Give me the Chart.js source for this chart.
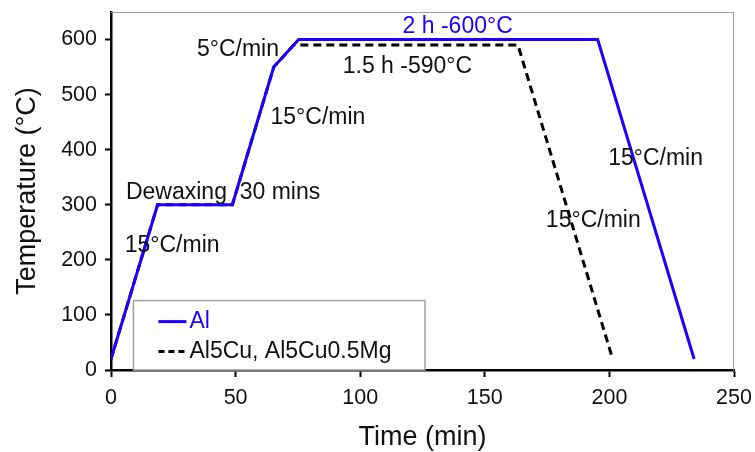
<!DOCTYPE html>
<html lang="en">
<head>
    <meta charset="UTF-8">
    <title>Temperature profile</title>
    <style>
        html, body {
            margin: 0;
            padding: 0;
            background: #fff;
        }
        #wrap {
            width: 755px;
            height: 452px;
        }
    </style>
</head>
<body>
    <div id="wrap"><canvas id="myChart" width="755" height="452"></canvas></div>
    <script src="https://cdn.jsdelivr.net/npm/chart.js"></script>
    <script>
        // Al: heating, dewaxing, 2 h hold at 600 °C, cooling
        const alTime = [0, 18.7, 48.7, 65.3, 75.3, 195.3, 234];
        const alTemp = [20, 300, 300, 550, 600, 600, 20];
        // Al5Cu / Al5Cu0.5Mg: same start, 1.5 h hold at 590 °C
        const cuTime = [0, 18.7, 48.7, 65.3, 73.3, 163.3, 201.3];
        const cuTemp = [20, 300, 300, 550, 590, 590, 20];

        const seriesNames = ['Al', 'Al5Cu, Al5Cu0.5Mg'];
        const xTicks = [0, 50, 100, 150, 200, 250];
        const yTicks = [0, 100, 200, 300, 400, 500, 600];

        // text notes placed in data coordinates
        const noteText = ['2 h -600°C', '5°C/min', '1.5 h -590°C', '15°C/min', 'Dewaxing  30 mins', '15°C/min', '15°C/min', '15°C/min'];
        const noteX = [117, 34.5, 93, 64, 6, 5.5, 199.5, 174.5];
        const noteY = [624, 582, 550, 458, 322, 226, 383, 271];
        const noteBlue = [true, false, false, false, false, false, false, false];

        const BLUE = '#1e00ff';
        const FONT = "'Liberation Sans', Arial, sans-serif";

        const toPoints = (xs, ys) => xs.map((x, i) => ({x: x, y: ys[i]}));

        const frameAndNotes = {
            id: 'frameAndNotes',
            afterDatasetsDraw(chart) {
                const ctx = chart.ctx;
                const a = chart.chartArea;
                const xs = chart.scales.x, ys = chart.scales.y;
                ctx.save();
                // thin grey frame on top and right
                ctx.strokeStyle = '#a0a0a0';
                ctx.lineWidth = 1;
                ctx.beginPath();
                ctx.moveTo(a.left, a.top + 0.5);
                ctx.lineTo(a.right - 0.5, a.top + 0.5);
                ctx.lineTo(a.right - 0.5, a.bottom);
                ctx.stroke();

                // notes
                ctx.font = '23px ' + FONT;
                ctx.textBaseline = 'middle';
                ctx.textAlign = 'left';
                noteText.forEach((t, i) => {
                    ctx.fillStyle = noteBlue[i] ? BLUE : '#111';
                    ctx.fillText(t, xs.getPixelForValue(noteX[i]), ys.getPixelForValue(noteY[i]));
                });

                // legend box
                const lx = xs.getPixelForValue(9);
                const rx = xs.getPixelForValue(126);
                const ty = ys.getPixelForValue(126);
                const by = a.bottom;
                ctx.fillStyle = '#fff';
                ctx.fillRect(lx, ty, rx - lx, by - ty);
                ctx.strokeStyle = '#a0a0a0';
                ctx.lineWidth = 1.5;
                ctx.strokeRect(lx, ty, rx - lx, by - ty);

                const rowY = [ty + 21, ty + 51];
                const styles = [[], [6, 4]];
                const colors = [BLUE, '#000'];
                seriesNames.forEach((name, i) => {
                    ctx.strokeStyle = colors[i];
                    ctx.lineWidth = 3;
                    ctx.setLineDash(styles[i]);
                    ctx.beginPath();
                    ctx.moveTo(lx + 25, rowY[i]);
                    ctx.lineTo(lx + 53, rowY[i]);
                    ctx.stroke();
                    ctx.setLineDash([]);
                    ctx.fillStyle = i === 0 ? BLUE : '#111';
                    ctx.fillText(name, lx + 56, rowY[i]);
                });
                ctx.restore();
            }
        };

        const ctx = document.getElementById('myChart').getContext('2d');
        const myChart = new Chart(ctx, {
            type: 'line',
            data: {
                datasets: [{
                    label: seriesNames[0],
                    data: toPoints(alTime, alTemp),
                    borderColor: BLUE,
                    borderWidth: 3,
                    pointRadius: 0,
                    tension: 0,
                    fill: false
                }, {
                    label: seriesNames[1],
                    data: toPoints(cuTime, cuTemp),
                    borderColor: '#000',
                    borderWidth: 3,
                    borderDash: [8, 5],
                    pointRadius: 0,
                    tension: 0,
                    fill: false
                }]
            },
            options: {
                animation: false,
                responsive: false,
                layout: {
                    padding: {top: 12, right: 21, left: 10, bottom: 0}
                },
                plugins: {
                    legend: {display: false},
                    tooltip: {enabled: false}
                },
                scales: {
                    x: {
                        type: 'linear',
                        min: 0,
                        max: 250,
                        afterBuildTicks: s => { s.ticks = xTicks.map(v => ({value: v})); },
                        afterFit: s => { s.height = 82; s.paddingLeft = 0; s.paddingRight = 0; },
                        grid: {
                            drawOnChartArea: false,
                            tickLength: 7,
                            tickWidth: 2,
                            color: '#000'
                        },
                        border: {color: '#000', width: 2.5},
                        ticks: {
                            color: '#111',
                            padding: 8,
                            maxRotation: 0,
                            font: {family: FONT, size: 21.5}
                        },
                        title: {
                            display: true,
                            text: 'Time (min)',
                            color: '#111',
                            padding: {top: 4, bottom: 1},
                            font: {family: FONT, size: 27, lineHeight: 1}
                        }
                    },
                    y: {
                        type: 'linear',
                        min: 0,
                        max: 650,
                        afterBuildTicks: s => { s.ticks = yTicks.map(v => ({value: v})); },
                        afterFit: s => { s.width = 101; s.paddingTop = 0; s.paddingBottom = 0; },
                        grid: {
                            drawOnChartArea: false,
                            tickLength: 6,
                            tickWidth: 2,
                            color: '#000'
                        },
                        border: {color: '#000', width: 2.5},
                        ticks: {
                            color: '#111',
                            padding: 8,
                            font: {family: FONT, size: 21.5}
                        },
                        title: {
                            display: true,
                            text: 'Temperature (°C)',
                            color: '#111',
                            padding: {top: 4, bottom: 4},
                            font: {family: FONT, size: 27, lineHeight: 1}
                        }
                    }
                }
            },
            plugins: [frameAndNotes]
        });
    </script>
</body>
</html>
